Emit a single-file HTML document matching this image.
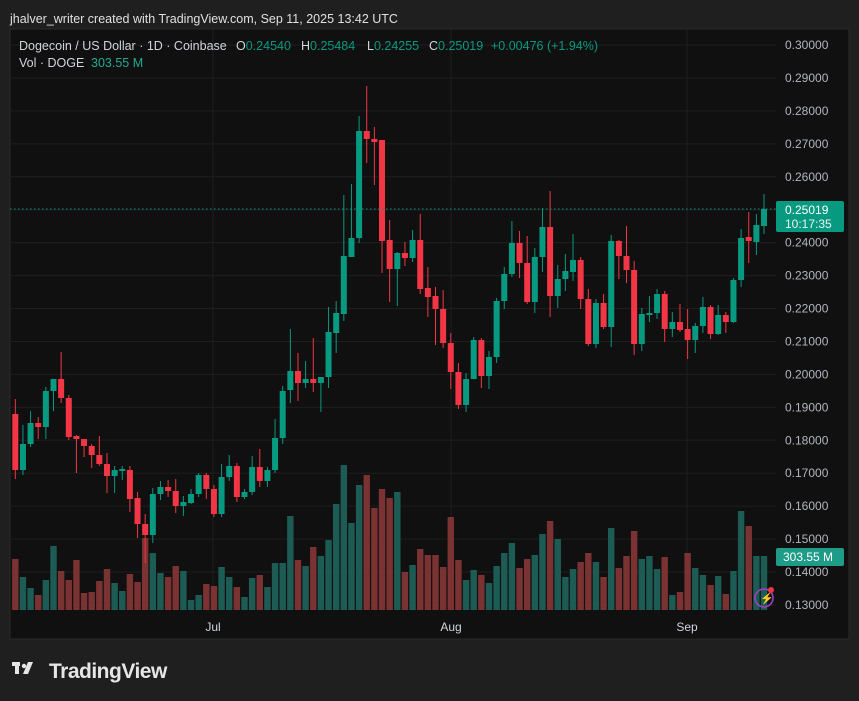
<!DOCTYPE html>
<html><head><meta charset="utf-8"><style>
html,body{margin:0;padding:0;background:#1f1f1f;width:859px;height:701px;overflow:hidden;font-family:"Liberation Sans",sans-serif}
</style></head><body>
<svg id="s" width="859" height="701" xmlns="http://www.w3.org/2000/svg" style="display:block">
<rect width="859" height="701" fill="#1f1f1f"/>
<text x="10" y="23" fill="#e0e0e0" font-size="12.5">jhalver_writer created with TradingView.com, Sep 11, 2025 13:42 UTC</text>
<rect x="10" y="29" width="839" height="610" fill="#101010" stroke="#2a2a2a"/>
<g id="grid"></g>
<g id="vol"></g>
<g id="cdl"></g>
<line x1="10" y1="209" x2="776" y2="209" stroke="#089981" stroke-dasharray="1.5,2.5"/>
<text y="50" font-size="12.5" fill="#d1d4dc"><tspan x="19">Dogecoin / US Dollar · 1D · Coinbase</tspan><tspan x="236">O</tspan><tspan fill="#089981">0.24540</tspan><tspan x="301">H</tspan><tspan fill="#089981">0.25484</tspan><tspan x="367">L</tspan><tspan fill="#089981">0.24255</tspan><tspan x="429">C</tspan><tspan fill="#089981">0.25019</tspan><tspan x="491" fill="#089981">+0.00476 (+1.94%)</tspan></text>
<text x="19" y="67" font-size="12.5" fill="#d1d4dc">Vol · DOGE <tspan fill="#22ab94" x="91">303.55 M</tspan></text>
<g id="ax" font-size="12" fill="#b2b5be"></g>
<rect x="776" y="201" width="68" height="31" rx="2" fill="#089981"/>
<text x="785" y="214" font-size="12" fill="#fff">0.25019</text>
<text x="785" y="228" font-size="12" fill="#e8f5f2">10:17:35</text>
<rect x="776" y="548" width="68" height="18" rx="2" fill="#1f9c88"/>
<text x="783" y="561" font-size="12" fill="#fff">303.55 M</text>
<circle cx="764" cy="598" r="9" fill="none" stroke="#9c3fc2" stroke-width="1.6"/>
<text x="760" y="602" font-size="11" fill="#b04fd8">⚡</text>
<circle cx="771" cy="590" r="3" fill="#f23645"/>
<text x="213" y="631" font-size="12" fill="#d1d4dc" text-anchor="middle">Jul</text>
<text x="451" y="631" font-size="12" fill="#d1d4dc" text-anchor="middle">Aug</text>
<text x="687" y="631" font-size="12" fill="#d1d4dc" text-anchor="middle">Sep</text>
<g fill="#e6e6e6">
<rect x="12" y="662" width="8" height="4"/><rect x="15" y="662" width="4" height="12"/>
<circle cx="24" cy="666" r="2.2"/><polygon points="28,662 33,662 28,674 23,674"/>
</g>
<text x="49" y="678" font-size="21" font-weight="bold" fill="#e6e6e6" letter-spacing="-0.5">TradingView</text>
</svg>
<script>
var NS="http://www.w3.org/2000/svg";
function el(p,t,a){var e=document.createElementNS(NS,t);for(var k in a)e.setAttribute(k,a[k]);p.appendChild(e);return e;}
var g=document.getElementById('grid'),ax=document.getElementById('ax');
for(var k=0;k<=17;k++){var y=45+32.94*k;
 el(g,'line',{x1:10,x2:776,y1:y,y2:y,stroke:'#1e1e1e'});
 var t=el(ax,'text',{x:785,y:y+4});t.textContent=(0.30-0.01*k).toFixed(5);}
[213,451,687].forEach(function(x){el(g,'line',{x1:x,x2:x,y1:30,y2:611,stroke:'#1e1e1e'});});
var C=[[414,470,399,479],[470,444,425,475],[444,423,411,447],[423,427,417,439],[427,391,387,439],[391,379,379,411],[379,398,352,403],[398,437,395,440],[436,439,435,473],[439,446,439,457],
[446,455,444,468],[455,464,436,466],[464,476,453,493],[476,470,466,493],[471,469,466,480],[470,499,466,512],[498,524,492,538],[524,535,514,563],[535,494,488,543],[494,487,481,500],
[487,491,480,497],[491,506,479,513],[506,502,496,516],[503,494,489,504],[494,475,473,497],[475,489,473,499],[489,514,485,517],[514,477,464,517],[477,466,455,481],[466,497,463,502],
[497,492,489,499],[492,467,456,495],[467,481,449,487],[481,470,467,487],[470,438,419,473],[438,391,386,444],[390,371,329,403],[371,383,353,401],[383,379,361,388],[379,383,338,392],
[383,377,377,412],[377,332,307,388],[333,313,301,353],[314,256,195,321],[257,238,184,257],[238,131,116,243],[131,139,86,163],[139,142,127,185],[140,241,140,273],[240,269,220,302],
[269,253,252,306],[253,258,242,266],[258,240,230,262],[240,289,214,294],[288,297,267,317],[296,309,287,345],[309,343,290,348],[343,372,333,389],[372,405,363,409],[405,379,373,412],
[379,340,337,379],[340,376,338,388],[376,357,351,389],[357,301,298,363],[301,274,267,309],[274,243,221,277],[243,263,231,278],[263,302,236,304],[302,257,248,313],[257,227,208,272],
[227,296,191,317],[296,279,265,308],[279,271,254,291],[272,260,234,281],[260,299,257,309],[299,344,289,346],[344,303,299,348],[303,327,294,329],[327,241,235,347],[241,256,240,279],
[256,270,226,283],[270,344,261,355],[344,314,308,351],[315,313,296,322],[313,294,289,319],[294,329,291,342],[329,322,312,337],[322,330,304,332],[329,340,309,359],[340,326,323,353],
[326,307,297,333],[307,334,305,339],[334,315,305,335],[315,322,312,333],[322,280,278,323],[280,238,229,287],[237,241,212,263],[242,225,214,255],[226,209,194,234]];
var V=[559,577,588,595,580,546,571,580,560,593,592,581,569,583,591,574,582,538,553,573,577,566,571,600,595,584,586,567,577,587,597,578,575,587,563,563,
516,560,566,547,556,540,504,465,523,485,475,508,489,498,492,572,565,549,555,555,567,517,560,580,570,575,583,566,553,543,568,559,555,534,521,539,577,569,562,553,562,577,528,568,556,531,559,556,569,557,595,592,553,568,575,585,576,594,571,511,526,556,556];
var vg=document.getElementById('vol'),cg=document.getElementById('cdl');
C.forEach(function(c,i){var x=15.3+7.64*i,up=c[1]<c[0];
 var col=up?'#089981':'#f23645';
 var vt=V[i];el(vg,'rect',{x:x-3.2,y:vt,width:6.4,height:610-vt,fill:up?'#1d5c54':'#7a3232'});
 el(cg,'line',{x1:x,x2:x,y1:c[2],y2:c[3],stroke:col,'stroke-width':1});
 var t=Math.min(c[0],c[1]),h=Math.max(1,Math.abs(c[1]-c[0]));
 el(cg,'rect',{x:x-3,y:t,width:6,height:h,fill:col});
});
</script>
</body></html>
